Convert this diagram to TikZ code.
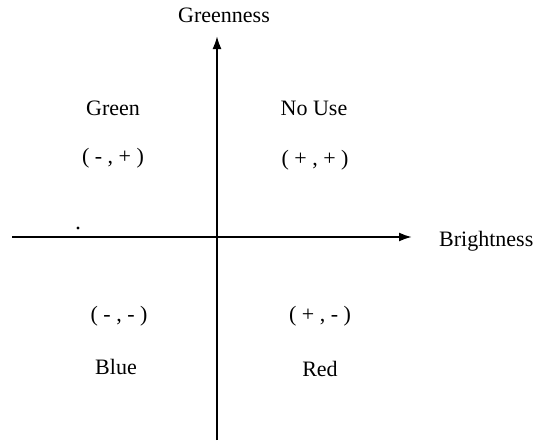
\documentclass[tikz,border=0pt]{standalone}
\usepackage{fontspec}
\setmainfont{Liberation Serif}
\usetikzlibrary{arrows.meta}
\begin{document}
\begin{tikzpicture}[x=1pt,y=-1pt,
  axis/.style={line width=2pt,-{Latex[length=13pt,width=9pt]}},
  lbl/.style={font=\fontsize{22}{25}\selectfont,inner sep=0pt}]
\useasboundingbox (0,0) rectangle (541,440);
\coordinate (vb) at (217,440);
\coordinate (vt) at (217,36);
\coordinate (hl) at (12,237);
\coordinate (hr) at (412,237);
\draw[axis] (vb) -- (vt);
\draw[axis] (hl) -- (hr);
\node[lbl] (gy) at (224,15) {Greenness};
\node[lbl,anchor=west] (bx) at (439,241) {Brightness};
\node[lbl] (green) at (113,108) {Green};
\node[lbl] (gs) at (113,158) {( - , + )};
\node[lbl] (nouse) at (314,108) {No Use};
\node[lbl] (ns) at (315,160) {( + , + )};
\node[lbl] (bs) at (119,316) {( - , - )};
\node[lbl] (blue) at (116,367) {Blue};
\node[lbl] (rs) at (320,316) {( + , - )};
\node[lbl] (red) at (320,369) {Red};
\fill (78,228) circle (1.6);
\end{tikzpicture}
\end{document}
